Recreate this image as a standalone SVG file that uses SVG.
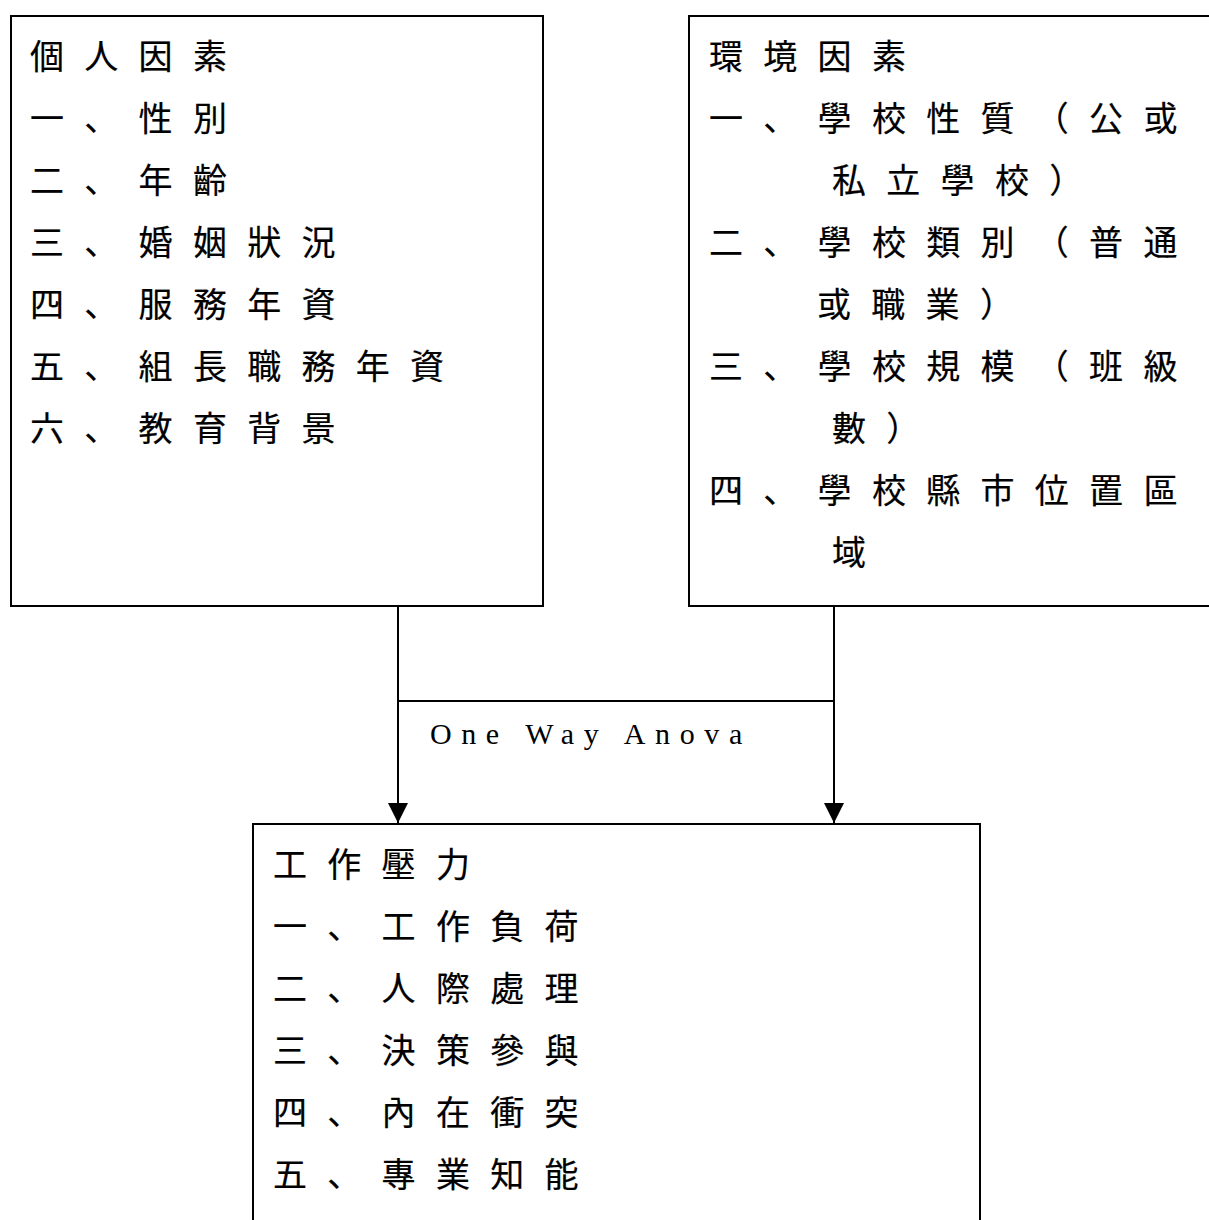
<svg xmlns="http://www.w3.org/2000/svg" width="1209" height="1220" viewBox="0 0 1209 1220">
<style>
.box{fill:#fff;stroke:#000;stroke-width:2}
.t{font-family:"Noto Sans CJK JP","Noto Sans CJK TC",sans-serif;font-size:34px;letter-spacing:20.3px;fill:#000;stroke:#000;stroke-width:0.2}
.e{font-family:"Liberation Serif",serif;font-size:30px;letter-spacing:9.6px;fill:#000}
.ln{stroke:#000;stroke-width:2;fill:none}
</style>
<defs>
<marker id="arr" markerWidth="20" markerHeight="20" refX="20" refY="10" orient="auto" markerUnits="userSpaceOnUse" viewBox="0 0 20 20">
<path d="M0,0 L20,10 L0,20 Z" fill="#000"/>
</marker>
</defs>
<g id="personal">
<rect class="box" x="11" y="16" width="532" height="590"/>
<text class="t" x="30" y="69">個人因素</text>
<text class="t" x="30" y="131">一、性別</text>
<text class="t" x="30" y="193">二、年齡</text>
<text class="t" x="30" y="255">三、婚姻狀況</text>
<text class="t" x="30" y="317">四、服務年資</text>
<text class="t" x="30" y="379">五、組長職務年資</text>
<text class="t" x="30" y="441">六、教育背景</text>
</g>
<g id="environment">
<rect class="box" x="689" y="16" width="530" height="590"/>
<text class="t" x="709" y="69">環境因素</text>
<text class="t" x="709" y="131">一、學校性質（公或</text>
<text class="t" x="832" y="193">私立學校）</text>
<text class="t" x="709" y="255">二、學校類別（普通</text>
<text class="t" x="817" y="317">或職業）</text>
<text class="t" x="709" y="379">三、學校規模（班級</text>
<text class="t" x="832" y="441">數）</text>
<text class="t" x="709" y="503">四、學校縣市位置區</text>
<text class="t" x="832" y="565">域</text>
</g>
<g id="stress">
<rect class="box" x="253" y="824" width="727" height="410"/>
<text class="t" x="273" y="877">工作壓力</text>
<text class="t" x="273" y="939">一、工作負荷</text>
<text class="t" x="273" y="1001">二、人際處理</text>
<text class="t" x="273" y="1063">三、決策參與</text>
<text class="t" x="273" y="1125">四、內在衝突</text>
<text class="t" x="273" y="1187">五、專業知能</text>
</g>
<g id="connectors">
<line class="ln" x1="398" y1="606" x2="398" y2="823" marker-end="url(#arr)"/>
<line class="ln" x1="834" y1="606" x2="834" y2="823" marker-end="url(#arr)"/>
<line class="ln" x1="398" y1="701" x2="834" y2="701"/>
<text class="e" x="430" y="744">One Way Anova</text>
</g>
</svg>
